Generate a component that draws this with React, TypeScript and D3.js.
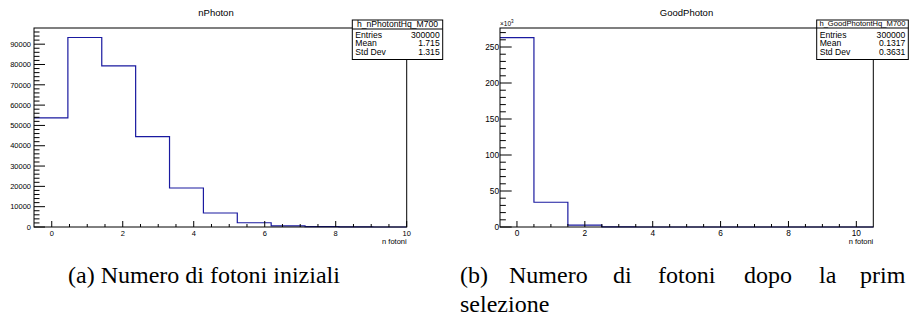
import React, { useEffect, useRef } from 'react';
import * as d3 from 'd3';

// bin contents
const nPhotonCounts = [53700, 93300, 79300, 44500, 19200, 6900, 2100, 600, 150, 30, 5];
const goodPhotonCounts = [263060, 34410, 2475, 50, 5, 0, 0, 0, 0, 0, 0];

const nPhotonStats = [['Entries', '300000'], ['Mean', '1.715'], ['Std Dev', '1.315']];
const goodPhotonStats = [['Entries', '300000'], ['Mean', '0.1317'], ['Std Dev', '0.3631']];

const xTickLabels = [0, 2, 4, 6, 8, 10];
const nPhotonYTicks = [0, 10000, 20000, 30000, 40000, 50000, 60000, 70000, 80000, 90000];
const goodPhotonYTicks = [0, 50, 100, 150, 200, 250];

const font = "'Liberation Sans', Arial, Helvetica, sans-serif";
const serif = "'Liberation Serif', 'Times New Roman', Times, serif";

function drawPanel(svg, cfg) {
  const g = svg.append('g');
  const x = d3.scaleLinear().domain(cfg.xDomain).range([cfg.left, cfg.right]);
  const y = d3.scaleLinear().domain([0, cfg.yMax]).range([cfg.bottom, cfg.top]);

  // title
  g.append('text')
    .attr('x', cfg.titleX).attr('y', 16)
    .attr('text-anchor', 'middle')
    .style('font-family', font).attr('font-size', 9.5)
    .text(cfg.title);

  // histogram outline
  const n = cfg.counts.length;
  const w = (cfg.xDomain[1] - cfg.xDomain[0]) / n;
  const edge = i => x(cfg.xDomain[0] + i * w);
  let d = `M${edge(0)},${y(cfg.counts[0] / cfg.scale)}`;
  cfg.counts.forEach((c, i) => {
    d += `V${y(c / cfg.scale)}H${edge(i + 1)}`;
  });
  g.append('path')
    .attr('d', d)
    .attr('fill', 'none')
    .attr('stroke', '#1a1aa0')
    .attr('stroke-width', 1.2);

  // frame
  g.append('rect')
    .attr('x', cfg.left).attr('y', cfg.top)
    .attr('width', cfg.right - cfg.left).attr('height', cfg.bottom - cfg.top)
    .attr('fill', 'none').attr('stroke', '#000').attr('stroke-width', 1);

  // x axis ticks
  const xMinor = d3.range(0, 10.01, 0.5).filter(v => x(v) <= cfg.right + 0.1);
  g.selectAll('.xmin').data(xMinor).enter().append('line')
    .attr('x1', d => x(d)).attr('x2', d => x(d))
    .attr('y1', cfg.bottom).attr('y2', d => cfg.bottom - (d % 2 === 0 ? 6 : 3))
    .attr('stroke', '#000').attr('stroke-width', 1);
  g.selectAll('.xlab').data(xTickLabels).enter().append('text')
    .attr('x', d => x(d)).attr('y', cfg.bottom + 8.5)
    .attr('text-anchor', 'middle')
    .style('font-family', font).attr('font-size', cfg.labelSize)
    .text(d => d);
  g.append('text')
    .attr('x', cfg.right).attr('y', 244)
    .attr('text-anchor', 'end')
    .style('font-family', font).attr('font-size', 7.5)
    .text('n fotoni');

  // y axis ticks
  const yMinor = d3.range(0, cfg.yMax, cfg.yMinorStep);
  g.selectAll('.ymin').data(yMinor).enter().append('line')
    .attr('x1', cfg.left)
    .attr('x2', d => cfg.left + (Math.round(d / cfg.yMinorStep) % cfg.yMinorPer === 0 ? cfg.majorLen : cfg.majorLen / 2))
    .attr('y1', d => y(d)).attr('y2', d => y(d))
    .attr('stroke', '#000').attr('stroke-width', 1);
  g.selectAll('.ylab').data(cfg.yTicks).enter().append('text')
    .attr('x', cfg.left - cfg.labelGap).attr('y', d => y(d) + cfg.labelSize * 0.36)
    .attr('text-anchor', 'end')
    .style('font-family', font).attr('font-size', cfg.labelSize)
    .text(d => d);

  if (cfg.exponent) {
    const t = g.append('text')
      .attr('x', cfg.left).attr('y', 26)
      .style('font-family', font).attr('font-size', 6.5);
    t.append('tspan').text('\u00d710');
    t.append('tspan').attr('dy', -3).attr('font-size', 4.5).text('3');
  }

  // stats box
  const sb = cfg.stats;
  g.append('rect')
    .attr('x', sb.x0).attr('y', 20)
    .attr('width', sb.x1 - sb.x0).attr('height', 39.5)
    .attr('fill', '#fff').attr('stroke', '#000').attr('stroke-width', 1);
  g.append('line')
    .attr('x1', sb.x0).attr('x2', sb.x1)
    .attr('y1', sb.sep).attr('y2', sb.sep)
    .attr('stroke', '#000').attr('stroke-width', 1);
  g.append('text')
    .attr('x', (sb.x0 + sb.x1) / 2).attr('y', sb.sep - 2)
    .attr('text-anchor', 'middle')
    .style('font-family', font).attr('font-size', sb.headSize)
    .text(cfg.name);
  cfg.statRows.forEach((r, i) => {
    g.append('text')
      .attr('x', sb.x0 + 3).attr('y', 37.5 + i * 8.7)
      .style('font-family', font).attr('font-size', 8.6)
      .text(r[0]);
    g.append('text')
      .attr('x', sb.x1 - 3).attr('y', 37.5 + i * 8.7)
      .attr('text-anchor', 'end')
      .style('font-family', font).attr('font-size', 8.6)
      .text(r[1]);
  });
}

export default function App() {
  const ref = useRef(null);

  useEffect(() => {
    const svg = d3.select(ref.current);
    svg.selectAll('*').remove();

    drawPanel(svg, {
      title: 'nPhoton', titleX: 216, name: 'h_nPhotontHq_M700',
      counts: nPhotonCounts, scale: 1, yMax: 97965,
      xDomain: [-0.5, 10], left: 34, right: 406.7, top: 28, bottom: 227,
      yTicks: nPhotonYTicks, yMinorStep: 2000, yMinorPer: 5, majorLen: 11,
      labelSize: 7.5, labelGap: 3, exponent: false,
      stats: { x0: 352.3, x1: 442.7, sep: 29, headSize: 8.6 },
      statRows: nPhotonStats,
    });

    drawPanel(svg, {
      title: 'GoodPhoton', titleX: 686.5, name: 'h_GoodPhotontHq_M700',
      counts: goodPhotonCounts, scale: 1000, yMax: 276.4,
      xDomain: [-0.5, 10.5], left: 500, right: 873.3, top: 28, bottom: 227,
      yTicks: goodPhotonYTicks, yMinorStep: 10, yMinorPer: 5, majorLen: 11.7,
      labelSize: 8.3, labelGap: 1, exponent: true,
      stats: { x0: 816.7, x1: 908.3, sep: 28, headSize: 7.6 },
      statRows: goodPhotonStats,
    });

    // captions
    const cap = svg.append('g')
      .style('font-family', serif)
      .attr('font-size', 24);
    cap.append('text').attr('x', 68).attr('y', 283).text('(a) Numero di fotoni iniziali');
    const words = [['(b)', 460], ['Numero', 509], ['di', 613], ['fotoni', 658], ['dopo', 744], ['la', 819], ['prim', 860]];
    words.forEach(([w, px]) => {
      cap.append('text').attr('x', px).attr('y', 283).text(w);
    });
    cap.append('text').attr('x', 460).attr('y', 312).text('selezione');
  }, []);

  return (
    <svg
      ref={ref}
      width={909}
      height={322}
      style={{ position: 'absolute', left: 0, top: 0, background: '#fff' }}
    />
  );
}
